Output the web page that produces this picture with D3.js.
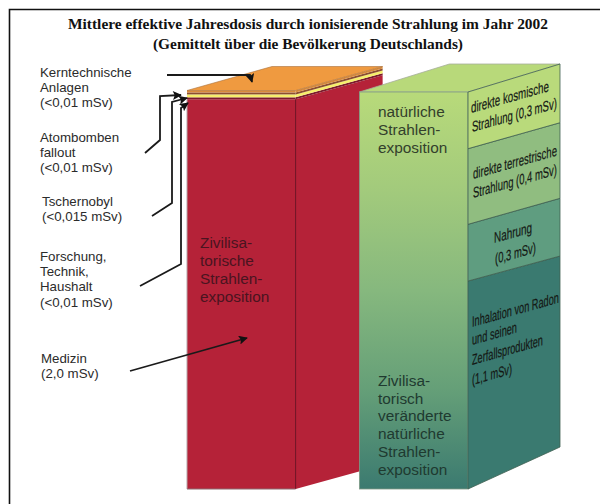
<!DOCTYPE html>
<html>
<head>
<meta charset="utf-8">
<script src="https://cdn.jsdelivr.net/npm/d3@7/dist/d3.min.js"></script>
<style>
html,body{margin:0;padding:0;background:#fff;}
svg{display:block;}
</style>
</head>
<body>
<svg id="chart" width="600" height="504"></svg>
<script>
// Dose values in mSv, stacked bottom to top
const columns = ["Zivilisatorische Strahlenexposition", "Natürliche Strahlenexposition"];
const civilLayers = ["Medizin", "Forschung, Technik, Haushalt", "Tschernobyl", "Atombombenfallout", "Kerntechnische Anlagen"];
const civilDoses = [2.0, 0.01, 0.015, 0.01, 0.01];
const naturalLayers = ["Inhalation", "Nahrung", "Terrestrisch", "Kosmisch"];
const naturalDoses = [1.1, 0.3, 0.4, 0.3];

const titleLines = [
  "Mittlere effektive Jahresdosis durch ionisierende Strahlung im Jahr 2002",
  "(Gemittelt über die Bevölkerung Deutschlands)"
];
const calloutLabels = [
  ["Kerntechnische", "Anlagen", "(<0,01 mSv)"],
  ["Atombomben", "fallout", "(<0,01 mSv)"],
  ["Tschernobyl", "(<0,015 mSv)"],
  ["Forschung,", "Technik,", "Haushalt", "(<0,01 mSv)"],
  ["Medizin", "(2,0 mSv)"]
];
const civilCaption = ["Zivilisa-", "torische", "Strahlen-", "exposition"];
const naturalCaption = ["natürliche", "Strahlen-", "exposition"];
const alteredCaption = ["Zivilisa-", "torisch", "veränderte", "natürliche", "Strahlen-", "exposition"];

const svg = d3.select("#chart");
const baseY = 489;

const x = d3.scaleBand().domain(columns).range([187, 468]).paddingInner(0.37).paddingOuter(0);
const yCivil = d3.scaleLinear().domain([0, d3.sum(civilDoses)]).range([baseY, 90.5]);
const yNatural = d3.scaleLinear().domain([0, d3.sum(naturalDoses)]).range([baseY, 92]);

const stack = values => {
  let total = 0;
  return values.map(v => { const s = [total, total + v]; total += v; return s; });
};
const poly = pts => d3.line()(pts) + "Z";

const defs = svg.append("defs");
const grad = defs.append("linearGradient").attr("id", "frontFade")
  .attr("x1", 0).attr("x2", 0).attr("y1", 0).attr("y2", 1);
[[0, "#b8da7a"], [0.25, "#a2ca7c"], [0.5, "#86b87e"], [0.75, "#659f78"], [1, "#3b7a70"]]
  .forEach(([o, c]) => grad.append("stop").attr("offset", o).attr("stop-color", c));
defs.append("marker").attr("id", "head").attr("viewBox", "0 0 10 10")
  .attr("refX", 9).attr("refY", 5).attr("markerWidth", 11).attr("markerHeight", 9)
  .attr("markerUnits", "userSpaceOnUse").attr("orient", "auto")
  .append("path").attr("d", "M0,0L10,5L0,10L2,5Z").attr("fill", "#111");

// Page frame: only the top and left rules are drawn
svg.append("path").attr("d", "M600,9.5H9.5V504").attr("fill", "none").attr("stroke", "#111").attr("stroke-width", 1.6);

// Title
svg.append("g").selectAll("text").data(titleLines).join("text")
  .attr("x", 308).attr("y", (d, i) => 29 + i * 20)
  .attr("text-anchor", "middle")
  .attr("textLength", (d, i) => i ? 310 : 480).attr("lengthAdjust", "spacingAndGlyphs")
  .attr("font-family", "Liberation Serif").attr("font-weight", "bold").attr("font-size", 15)
  .attr("fill", "#111").text(d => d);

// Civilisation column, drawn behind the natural one
const civX0 = x(columns[0]), civX1 = civX0 + x.bandwidth();
const civDepth = { dx: 87, dy: -24 };
const civilColors = ["#b52238", "#7c1a2c", "#f6ee6c", "#8b4f30", "#d98b3c"];
const civilStack = stack(civilDoses);
const gCivil = svg.append("g");
civilStack.forEach((s, i) => {
  const top = yCivil(s[1]), bottom = yCivil(s[0]);
  gCivil.append("path")
    .attr("d", poly([[civX1, top], [civX1 + civDepth.dx, top + civDepth.dy], [civX1 + civDepth.dx, bottom + civDepth.dy], [civX1, bottom]]))
    .attr("fill", civilColors[i]);
  gCivil.append("rect").attr("x", civX0).attr("y", top).attr("width", x.bandwidth()).attr("height", bottom - top)
    .attr("fill", civilColors[i]);
});
const civTop = yCivil(d3.sum(civilDoses));
gCivil.append("path")
  .attr("d", poly([[civX0, civTop], [civX0 + 85, civTop + civDepth.dy], [civX1 + civDepth.dx, civTop + civDepth.dy], [civX1, civTop]]))
  .attr("fill", "#ef9a40").attr("stroke", "#a9713a").attr("stroke-width", 0.6);
gCivil.append("line").attr("x1", civX1).attr("x2", civX1).attr("y1", yCivil(civilDoses[0])).attr("y2", baseY)
  .attr("stroke", "#6e1022").attr("stroke-width", 1);
gCivil.append("line").attr("x1", civX0).attr("x2", civX0).attr("y1", yCivil(civilDoses[0])).attr("y2", baseY)
  .attr("stroke", "#b5a5a8").attr("stroke-width", 1);
gCivil.append("line").attr("x1", civX0).attr("x2", civX1).attr("y1", baseY).attr("y2", baseY)
  .attr("stroke", "#8c6a70").attr("stroke-width", 1);

// Natural column: gradient front, four segments on the side.
// The side narrows towards the back, so each boundary rises by its own amount.
const natX0 = x(columns[1]), natX1 = natX0 + x.bandwidth();
const natDepth = 92;
const natRise = [-42, -25, -26, -26, -28];
const natTop = yNatural(d3.sum(naturalDoses));
const naturalColors = ["#3a7a70", "#5f9d80", "#90bd80", "#b9da7b"];
const gNat = svg.append("g");
gNat.append("path")
  .attr("d", poly([[natX0, natTop], [natX0 + 90, natTop + natRise[4]], [natX1 + natDepth, natTop + natRise[4]], [natX1, natTop]]))
  .attr("fill", "#b8d97a").attr("stroke", "#a6ad9a").attr("stroke-width", 0.8);
gNat.append("rect").attr("x", natX0).attr("y", natTop).attr("width", x.bandwidth()).attr("height", baseY - natTop)
  .attr("fill", "url(#frontFade)").attr("stroke", "#7f9a86").attr("stroke-width", 0.8);
stack(naturalDoses).forEach((s, i) => {
  const top = yNatural(s[1]), bottom = yNatural(s[0]);
  gNat.append("path")
    .attr("d", poly([[natX1, top], [natX1 + natDepth, top + natRise[i + 1]], [natX1 + natDepth, bottom + natRise[i]], [natX1, bottom]]))
    .attr("fill", naturalColors[i]).attr("stroke", "#3f5f50").attr("stroke-width", 0.8);
});

// Captions on the front faces
const sans = "Liberation Sans";
function caption(lines, left, firstBaseline, lead, colour) {
  svg.append("g").selectAll("text").data(lines).join("text")
    .attr("x", left).attr("y", (d, i) => firstBaseline + i * lead)
    .attr("font-family", sans).attr("font-size", 15.4).attr("fill", colour).text(d => d);
}
caption(civilCaption, 200, 248, 18, "#4a1420");
caption(naturalCaption, 378, 117, 18, "#33402c");
caption(alteredCaption, 378, 386, 17.7, "#1f3a30");

// Perspective labels on the side faces: [text, x, baseline, width].
// Each is condensed to its width and sheared along the face.
const sideLabels = [
  ["direkte kosmische", 471, 113, 78],
  ["Strahlung (0,3 mSv)", 472, 132, 85],
  ["direkte terrestrische", 473, 179, 84],
  ["Strahlung (0,4 mSv)", 473, 198, 84],
  ["Nahrung", 494, 243, 38],
  ["(0,3 mSv)", 495, 264, 41],
  ["Inhalation von Radon", 472, 327, 87],
  ["und seinen", 472, 345, 45],
  ["Zerfallsprodukten", 472, 365, 71],
  ["(1,1 mSv)", 472, 385, 40]
];
const sideShear = -0.28;
svg.append("g").selectAll("text").data(sideLabels).join("text")
  .attr("font-family", sans).attr("font-size", 15).attr("fill", "#141814")
  .attr("stroke", "#141814").attr("stroke-width", 0.2).text(d => d[0])
  .attr("transform", function (d) {
    const squeeze = d[3] / this.getComputedTextLength();
    return `matrix(${squeeze},${sideShear * squeeze},0,1,${d[1]},${d[2]})`;
  });

// Callout labels and leader arrows
const calloutPlace = [[40, 77], [40, 142], [42, 206], [40, 261], [41, 363]];
calloutLabels.forEach((lines, i) => {
  svg.append("g").selectAll("text").data(lines).join("text")
    .attr("x", calloutPlace[i][0]).attr("y", (d, j) => calloutPlace[i][1] + j * 15.2)
    .attr("font-family", sans).attr("font-size", 13.3).attr("fill", "#2b2b2b").text(d => d);
});
const leaders = [
  [[167, 75], [250, 75], [252, 82]],
  [[145, 153], [160, 140], [160, 96], [181, 95]],
  [[152, 216], [172, 203], [172, 102], [187, 98]],
  [[140, 286], [181, 264], [181, 108], [188, 103]],
  [[130, 371], [247, 338]]
];
svg.append("g").selectAll("path").data(leaders).join("path")
  .attr("d", d3.line()).attr("fill", "none").attr("stroke", "#1a1a1a").attr("stroke-width", 1.8)
  .attr("marker-end", "url(#head)");
</script>
</body>
</html>
